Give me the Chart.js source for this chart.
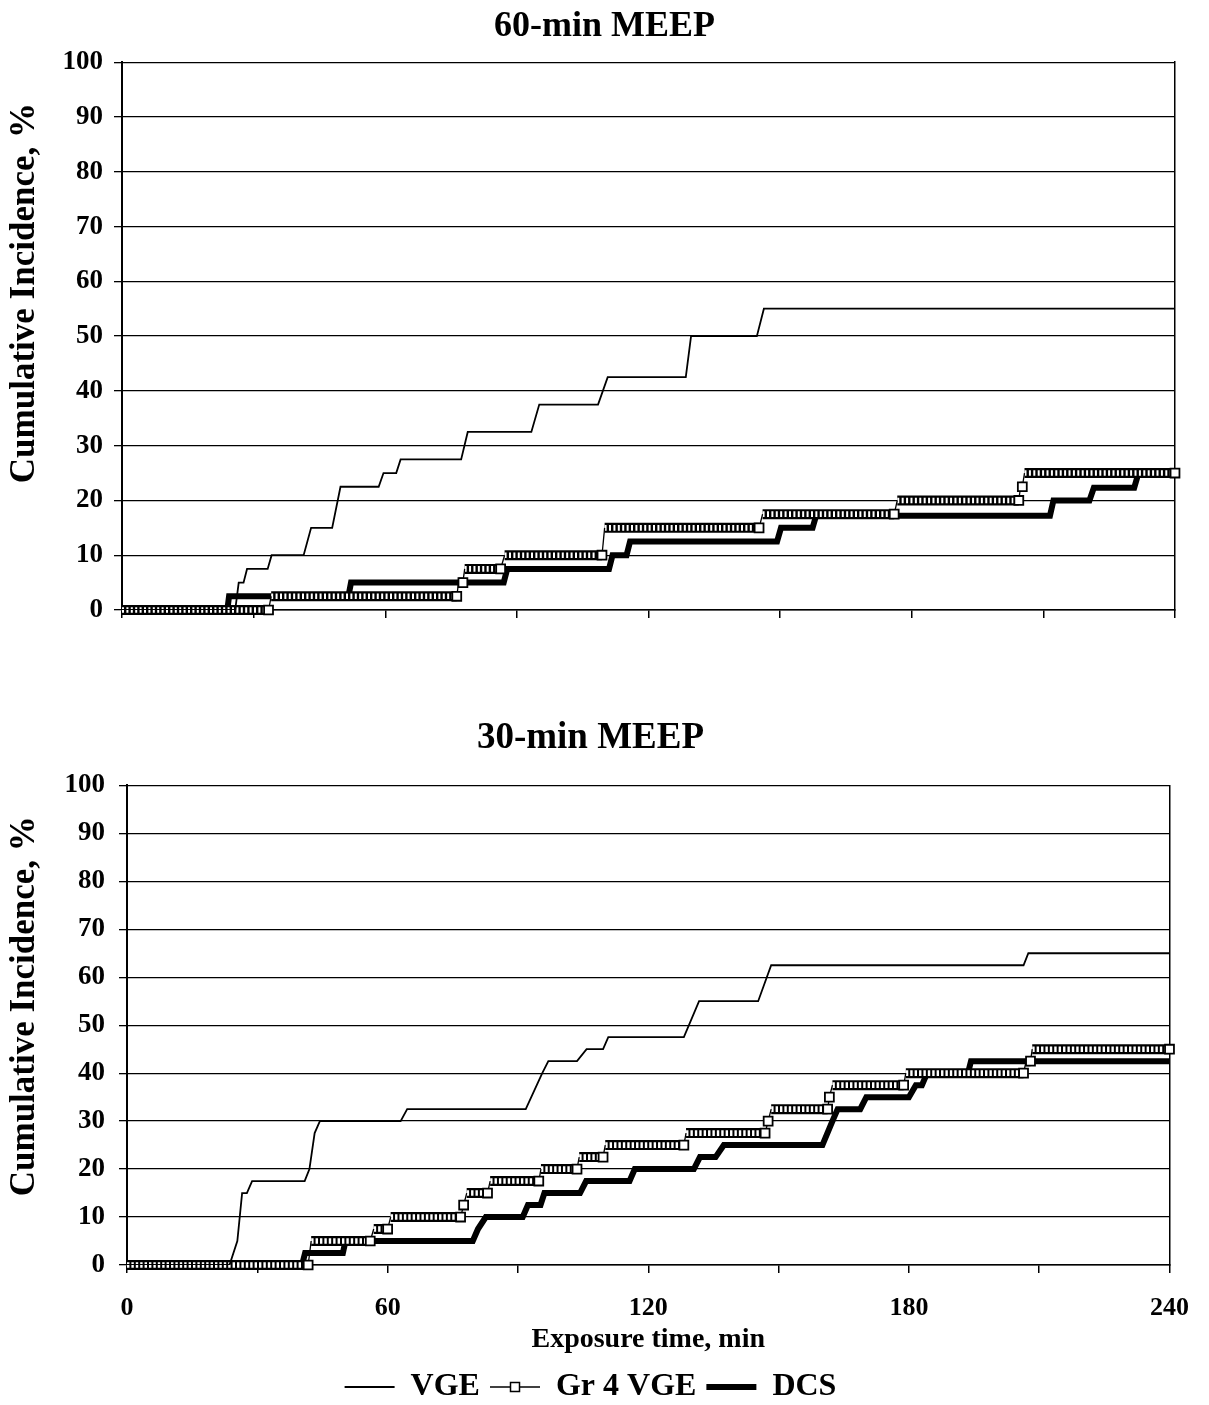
<!DOCTYPE html>
<html>
<head>
<meta charset="utf-8">
<script src="https://cdn.jsdelivr.net/npm/chart.js@4.4.1/dist/chart.umd.min.js"></script>
<style>
html,body{margin:0;padding:0;background:#fff;overflow:hidden;}
#wrap{position:relative;width:1209px;height:1405px;background:#fff;}
#c1{position:absolute;left:0;top:0;}
#c2{position:absolute;left:0;top:700px;}
</style>
</head>
<body>
<div id="wrap">
<canvas id="c1" width="1209" height="700"></canvas>
<canvas id="c2" width="1209" height="713"></canvas>
</div>
<script>
// ---------- data ----------
const seriesNames = ['VGE', 'Gr 4 VGE', 'DCS'];
const chartTitles = ['60-min MEEP', '30-min MEEP'];
const yAxisTitle = 'Cumulative Incidence, %';
const xAxisTitle = 'Exposure time, min';
const xTickValues = [0, 30, 60, 90, 120, 150, 180, 210, 240];
const xTickLabels = ['0', '', '60', '', '120', '', '180', '', '240'];

// 60-min MEEP
const vge60Time = [0, 25.8, 26.6, 27.7, 28.5, 33.2, 34.1, 41.4, 43.1, 47.9, 49.8, 58.5, 59.6, 62.5, 63.5, 77.3, 78.8, 93.3, 95.1, 108.5, 110.7, 128.5, 129.7, 144.7, 146.3, 240];
const vge60Pct  = [0, 0, 5, 5, 7.5, 7.5, 10, 10, 15, 15, 22.5, 22.5, 25, 25, 27.5, 27.5, 32.5, 32.5, 37.5, 37.5, 42.5, 42.5, 50, 50, 55, 55];
const gr4_60Time = [0, 33.4, 34.0, 76.3, 76.7, 77.7, 78.1, 86.3, 87.2, 109.4, 110.0, 145.2, 146.0, 176.0, 176.7, 204.4, 204.8, 205.2, 205.7, 240];
const gr4_60Pct  = [0, 0, 2.5, 2.5, 5, 5, 7.5, 7.5, 10, 10, 15, 15, 17.5, 17.5, 20, 20, 22.5, 22.5, 25, 25];
const dcs60Time = [0, 24.0, 24.4, 51.6, 52.2, 87.0, 87.8, 111.0, 111.8, 115.0, 115.8, 149.3, 150.2, 157.4, 158.2, 211.5, 212.3, 220.5, 221.5, 230.7, 231.6, 240];
const dcs60Pct  = [0, 0, 2.5, 2.5, 5, 5, 7.5, 7.5, 10, 10, 12.5, 12.5, 15, 15, 17.2, 17.2, 20, 20, 22.3, 22.3, 24.8, 24.8];

// 30-min MEEP
const vge30Time = [0, 23.6, 25.4, 26.5, 27.6, 28.8, 40.9, 42.0, 43.2, 44.4, 63.0, 64.5, 91.8, 95.6, 97.0, 103.6, 105.8, 109.6, 110.8, 128.2, 131.7, 145.3, 148.3, 206.4, 207.5, 240];
const vge30Pct  = [0, 0, 5, 15, 15, 17.5, 17.5, 20, 27.5, 30, 30, 32.5, 32.5, 40, 42.5, 42.5, 45, 45, 47.5, 47.5, 55, 55, 62.5, 62.5, 65, 65];
const gr4_30Time = [0, 41.7, 42.4, 56.0, 56.8, 60.0, 60.7, 76.8, 77.5, 78.2, 83.0, 83.6, 94.8, 95.3, 103.6, 104.1, 109.6, 110.1, 128.2, 128.7, 146.9, 147.6, 148.3, 161.3, 161.7, 162.4, 178.8, 179.3, 206.4, 207.0, 208.0, 208.4, 240];
const gr4_30Pct  = [0, 0, 5, 5, 7.5, 7.5, 10, 10, 12.5, 15, 15, 17.5, 17.5, 20, 20, 22.5, 22.5, 25, 25, 27.5, 27.5, 30, 32.5, 32.5, 35, 37.5, 37.5, 40, 40, 42.5, 42.5, 45, 45];
const dcs30Time = [0, 40.3, 41.0, 49.7, 50.3, 79.6, 80.8, 82.6, 91.1, 92.3, 95.2, 96.1, 104.3, 105.7, 115.7, 116.9, 130.5, 131.9, 135.5, 137.4, 160.1, 162.4, 163.6, 168.8, 170.2, 180.0, 181.6, 183.0, 184.2, 193.6, 194.3, 240];
const dcs30Pct  = [0, 0, 2.5, 2.5, 5, 5, 7.5, 10, 10, 12.5, 12.5, 15, 15, 17.5, 17.5, 20, 20, 22.5, 22.5, 25, 25, 30, 32.5, 32.5, 35, 35, 37.5, 37.5, 40, 40, 42.5, 42.5];

// ---------- drawing ----------
const FONT = '"Liberation Serif", "Times New Roman", serif';
Chart.defaults.font.family = FONT;
Chart.defaults.color = '#000';

const pts = (t, v) => t.map((x, i) => ({x: x, y: v[i]}));
const isFlat = (c, v) => v[c.p0DataIndex] === v[c.p1DataIndex];
const CLEAR = 'rgba(0,0,0,0)';

function buildDatasets(vT, vV, gT, gV, dT, dV, hatchDash) {
  return [
    {label: seriesNames[0], data: pts(vT, vV), borderColor: '#000', borderWidth: 1.8,
     pointRadius: 0, order: 0},
    {label: seriesNames[1], data: pts(gT, gV), borderColor: '#000', borderWidth: 1.3,
     segment: {borderColor: c => isFlat(c, gV) ? CLEAR : '#000'},
     pointStyle: 'rect',
     pointRadius: c => (c.dataIndex === gV.length - 1 || gV[c.dataIndex + 1] !== gV[c.dataIndex]) ? 6.3 : 0,
     pointHoverRadius: 0,
     pointBackgroundColor: '#fff', pointBorderColor: '#000', pointBorderWidth: 1.8,
     order: 1, clip: 8},
    {label: '_hatch', data: pts(gT, gV), borderWidth: 5.6, borderColor: '#fff',
     segment: {borderColor: c => isFlat(c, gV) ? '#fff' : CLEAR,
               borderDash: c => isFlat(c, gV) ? hatchDash : []},
     pointRadius: 0, order: 2, clip: 8},
    {label: '_band', data: pts(gT, gV), borderWidth: 10, borderColor: '#000',
     segment: {borderColor: c => isFlat(c, gV) ? '#000' : CLEAR},
     pointRadius: 0, order: 3, clip: 8},
    {label: seriesNames[2], data: pts(dT, dV), borderColor: '#000', borderWidth: 6,
     pointRadius: 0, order: 4}
  ];
}

function sideTitle(dy) {
  return {
    id: 'sideTitle',
    afterDraw(chart) {
      const {ctx, chartArea} = chart;
      ctx.save();
      ctx.font = 'bold 35px ' + FONT;
      ctx.fillStyle = '#000';
      ctx.textAlign = 'center';
      ctx.textBaseline = 'middle';
      ctx.translate(25, (chartArea.top + chartArea.bottom) / 2 + dy);
      ctx.rotate(-Math.PI / 2);
      ctx.fillText(yAxisTitle, 0, 0);
      ctx.restore();
    }
  };
}

function makeScales(yWidth, yPad, xHeight, showXLabels, rightWidth) {
  return {
    x: {
      type: 'linear', min: 0, max: 240,
      afterBuildTicks: s => { s.ticks = xTickValues.map(v => ({value: v})); },
      afterFit: s => { s.height = xHeight; },
      ticks: {
        autoSkip: false, maxRotation: 0, padding: 20,
        font: {size: 26, weight: 'bold'},
        callback: (v) => showXLabels ? xTickLabels[xTickValues.indexOf(v)] : ''
      },
      grid: {drawOnChartArea: false, drawTicks: true, tickLength: 8, color: '#000', lineWidth: 1.5},
      border: {display: true, color: '#000', width: 1.5},
      title: {display: showXLabels, text: xAxisTitle, font: {size: 28, weight: 'bold'},
              padding: {top: 0, bottom: 4}}
    },
    y: {
      min: 0, max: 100,
      afterFit: s => { s.width = yWidth; },
      ticks: {stepSize: 10, padding: yPad, font: {size: 27, weight: 'bold'}},
      grid: {color: '#000', lineWidth: 1.3, tickLength: 8, drawTicks: true},
      border: {display: true, color: '#000', width: 2}
    },
    yR: {
      position: 'right', min: 0, max: 100,
      afterFit: s => { s.width = rightWidth; },
      ticks: {display: false},
      grid: {drawOnChartArea: false, drawTicks: false},
      border: {display: true, color: '#000', width: 1.5}
    }
  };
}

// legend icon for the marker series
const gr4Icon = document.createElement('canvas');
gr4Icon.width = 50; gr4Icon.height = 14;
(function () {
  const g = gr4Icon.getContext('2d');
  g.strokeStyle = '#000'; g.lineWidth = 1.5;
  g.beginPath(); g.moveTo(0, 7); g.lineTo(50, 7); g.stroke();
  g.fillStyle = '#fff'; g.fillRect(20.5, 2.5, 9, 9); g.strokeRect(20.5, 2.5, 9, 9);
})();

// top chart: 60-min MEEP
new Chart(document.getElementById('c1'), {
  type: 'line',
  data: {datasets: buildDatasets(vge60Time, vge60Pct, gr4_60Time, gr4_60Pct, dcs60Time, dcs60Pct, [2.0, 2.4])},
  options: {
    responsive: false, animation: false,
    layout: {padding: {left: 0, right: 0, top: 0, bottom: 0}},
    plugins: {
      legend: {display: false},
      tooltip: {enabled: false},
      title: {display: true, text: chartTitles[0], color: '#000',
              font: {size: 36, weight: 'bold'}, padding: {top: 5, bottom: 14}}
    },
    scales: makeScales(122, 11, 90, false, 34)
  },
  plugins: [sideTitle(-43)]
});

// bottom chart: 30-min MEEP
new Chart(document.getElementById('c2'), {
  type: 'line',
  data: {datasets: buildDatasets(vge30Time, vge30Pct, gr4_30Time, gr4_30Pct, dcs30Time, dcs30Pct, [2.4, 2.0])},
  options: {
    responsive: false, animation: false,
    layout: {padding: {left: 0, right: 28, top: 0, bottom: 0}},
    plugins: {
      tooltip: {enabled: false},
      title: {display: true, text: chartTitles[1], color: '#000',
              font: {size: 37, weight: 'bold'}, padding: {top: 16, bottom: 25}},
      legend: {
        display: true, position: 'bottom',
        labels: {
          usePointStyle: true, pointStyleWidth: 50, padding: 10, color: '#000',
          font: {size: 32, weight: 'bold'},
          generateLabels: () => [
            {text: seriesNames[0], pointStyle: 'line', lineWidth: 1.8, strokeStyle: '#000', fillStyle: '#000', hidden: false, datasetIndex: 0},
            {text: seriesNames[1], pointStyle: gr4Icon, lineWidth: 1.5, strokeStyle: '#000', fillStyle: '#fff', hidden: false, datasetIndex: 1},
            {text: seriesNames[2], pointStyle: 'line', lineWidth: 6, strokeStyle: '#000', fillStyle: '#000', hidden: false, datasetIndex: 4}
          ]
        }
      }
    },
    scales: makeScales(127, 14, 96, true, 0)
  },
  plugins: [sideTitle(-19)]
});
</script>
</body>
</html>
